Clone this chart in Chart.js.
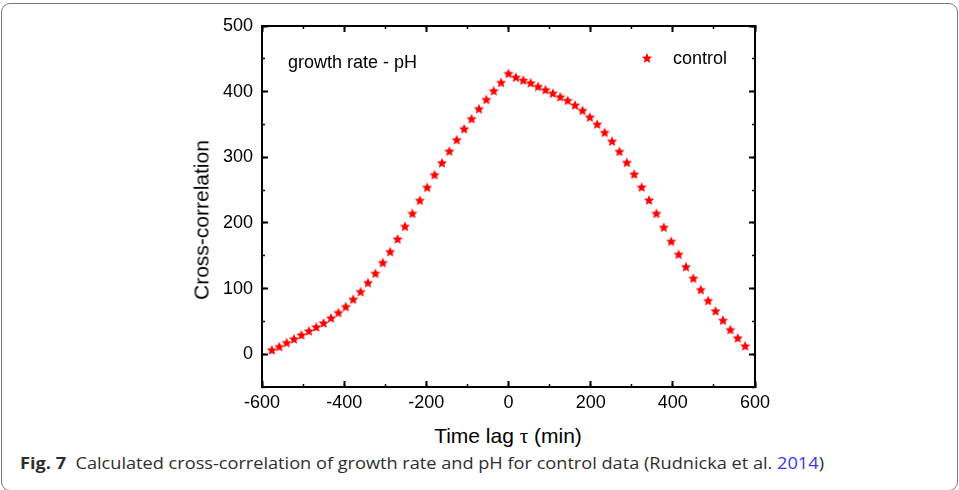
<!DOCTYPE html>
<html><head><meta charset="utf-8">
<script src="https://cdn.jsdelivr.net/npm/chart.js@4.4.1/dist/chart.umd.min.js"></script>
<style>
html,body{margin:0;padding:0;background:#fff;}
#wrap{position:relative;width:959px;height:490px;overflow:hidden;background:#fff;}
#frame{position:absolute;left:1px;top:3px;width:957px;height:488px;box-sizing:border-box;border:1px solid #7a7a7a;border-radius:9px;}
#chart{position:absolute;left:0;top:0;}
.t{position:absolute;white-space:nowrap;line-height:1;color:#000;font-family:'Liberation Sans',Arial,sans-serif;}
</style></head><body>
<div id="wrap">
<div id="frame"></div>
<canvas id="chart" width="959" height="420"></canvas>
<div class="t" id="note" style="left:288px;top:52.8px;font-size:18px;">growth rate - pH</div>
<canvas id="legStar" width="12" height="12" style="position:absolute;left:641px;top:52px;"></canvas>
<div class="t" id="leg" style="left:673px;top:48.8px;font-size:18px;">control</div>
<div class="t" id="xt" style="left:508px;top:425.2px;font-size:21px;transform:translateX(-50%);">Time lag <span style="font-family:'Liberation Serif',serif;">τ</span> (min)</div>
<div class="t" id="yt" style="left:201.2px;top:220px;font-size:21px;transform:translate(-50%,-50%) rotate(-90deg);">Cross-correlation</div>
<div class="t" id="cap" style="left:20px;top:456px;font-family:'Open Sans',sans-serif;font-size:15.5px;color:#2e2e2e;transform-origin:0 0;"><b>Fig. 7</b>&nbsp; Calculated cross-correlation of growth rate and pH for control data (Rudnicka et al. <span style="color:#3838f2">2014</span>)</div>
</div>
<script>
// ---- data ----
const lags = [-576,-558,-540,-522,-504,-486,-468,-450,-432,-414,-396,-378,-360,-342,-324,-306,-288,-270,-252,-234,-216,-198,-180,-162,-144,-126,-108,-90,-72,-54,-36,-18,0,
  18,36,54,72,90,108,126,144,162,180,198,216,234,252,270,288,306,324,342,360,378,396,414,432,450,468,486,504,522,540,558,576];
const control = [6.5,11.6,17.7,23.3,29.4,35.5,41.5,47.6,55.3,63.4,72.5,83.7,95.3,109,123.3,139.5,156.2,175.5,194.8,214.6,234.5,254.2,273.4,291.6,309.4,326.7,343.4,358.7,373.9,388.1,401.3,414,427.7,
  422,417.5,413.4,407.9,402.8,397.7,392.1,386.6,379.5,371.4,361.2,350.5,337.9,324.6,308.9,292.2,274.4,254.6,234.9,214.6,193.3,172,152.2,133.3,115.7,98.3,81.6,65.9,51.7,37.4,24.8,12.6];
const xRange = [-600, 600];
const yRange = [-50, 500];
const xMajorStep = 200, xMinorStep = 100;
const yMajorStep = 100, yMinorStep = 50;
const seriesName = 'control';

// ---- star marker ----
function drawStar(c, r) {
  const g = c.getContext('2d');
  const s = c.width;
  g.clearRect(0, 0, s, s);
  g.fillStyle = '#ff0000';
  g.beginPath();
  for (let i = 0; i < 10; i++) {
    const a = -Math.PI / 2 + i * Math.PI / 5;
    const rr = (i % 2) ? r * 0.46 : r;
    g.lineTo(s / 2 + rr * Math.cos(a), s / 2 + rr * Math.sin(a) + 0.4);
  }
  g.closePath();
  g.fill();
  return c;
}
const starImg = document.createElement('canvas');
starImg.width = 12; starImg.height = 12;
drawStar(starImg, 5.4);
drawStar(document.getElementById('legStar'), 5.4);

// ---- caption width fit ----
const cap = document.getElementById('cap');
const cw = cap.getBoundingClientRect().width;
cap.style.transform = 'scaleX(' + (804 / cw) + ')';

// ---- chart ----
const tickFont = {family: "'Liberation Sans', Arial, sans-serif", size: 18};
function scale(axis, pos, range, step, major, labels, pad, size) {
  return {
    type: 'linear', axis: axis, position: pos,
    min: range[0], max: range[1],
    weight: major ? 1 : 0,
    afterFit: a => { if (a.isHorizontal()) a.height = size || 0; else a.width = size || 0; },
    ticks: {
      stepSize: step, display: labels, includeBounds: false,
      font: tickFont, color: '#000', padding: pad || 0,
      maxRotation: 0, autoSkip: false,
      callback: v => (v < 0 && axis === 'y') ? '' : v
    },
    grid: {
      display: true, drawOnChartArea: false, drawTicks: true,
      tickLength: major ? -6 : -3, tickWidth: major ? 2 : 1.5, tickColor: '#000', color: '#000'
    },
    border: {display: major, color: '#000', width: 2}
  };
}

new Chart(document.getElementById('chart'), {
  type: 'scatter',
  data: {
    datasets: [{
      label: seriesName,
      data: lags.map((x, i) => ({x: x, y: control[i]})),
      pointStyle: starImg,
      pointRadius: 5,
      backgroundColor: '#ff0000',
      borderColor: '#ff0000',
      xAxisID: 'x', yAxisID: 'y'
    }]
  },
  options: {
    responsive: false,
    devicePixelRatio: 1,
    animation: false,
    events: [],
    layout: {padding: {left: 202, right: 204, top: 26, bottom: 0}},
    plugins: {legend: {display: false}, tooltip: {enabled: false}},
    scales: {
      xMinor: scale('x', 'bottom', xRange, xMinorStep, false, false),
      x: scale('x', 'bottom', xRange, xMajorStep, true, true, 11, 33),
      xTopMinor: scale('x', 'top', xRange, xMinorStep, false, false),
      xTop: scale('x', 'top', xRange, xMajorStep, true, false),
      yMinor: scale('y', 'left', yRange, yMinorStep, false, false),
      y: scale('y', 'left', yRange, yMajorStep, true, true, 15, 60),
      yRightMinor: scale('y', 'right', yRange, yMinorStep, false, false),
      yRight: scale('y', 'right', yRange, yMajorStep, true, false)
    }
  }
});
</script>
</body></html>
